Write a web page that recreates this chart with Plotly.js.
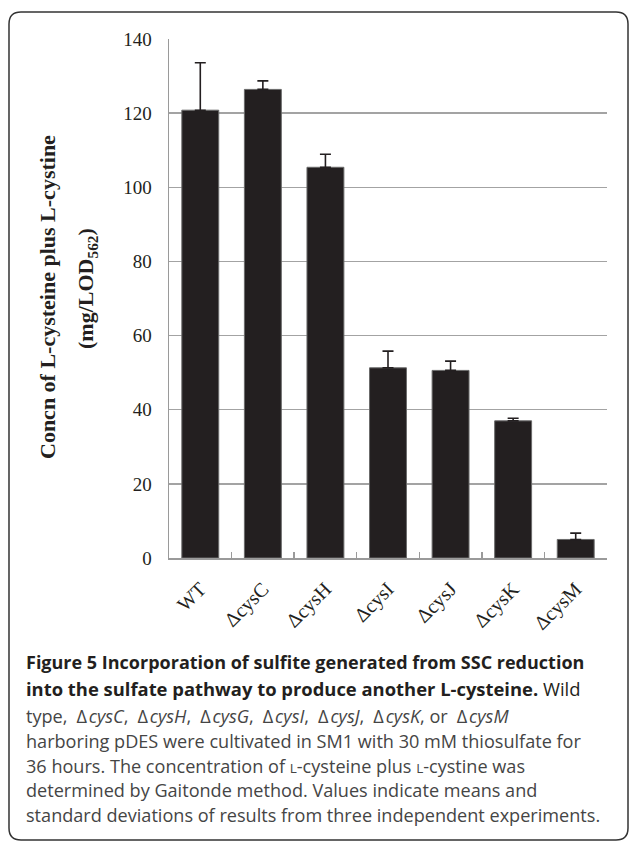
<!DOCTYPE html>
<html>
<head>
<meta charset="utf-8">
<script src="https://cdn.plot.ly/plotly-3.0.1.min.js"></script>
<style>
html,body{margin:0;padding:0;background:#fff;}
#chart{width:629px;height:842px;}
</style>
</head>
<body>
<div id="chart"></div>
<script>
// ---- data ----
var strains = ["WT", "\u0394cysC", "\u0394cysH", "\u0394cysI", "\u0394cysJ", "\u0394cysK", "\u0394cysM"];
var concn = [120.8, 126.4, 105.4, 51.3, 50.6, 37.0, 5.0];
var concnSD = [12.8, 2.3, 3.5, 4.5, 2.5, 0.7, 1.7];
var yTicks = [0, 20, 40, 60, 80, 100, 120, 140];

var yTitleLines = [
  "<b>Concn of L-cysteine plus L-cystine</b>",
  "<b>(mg/LOD<sub>562</sub>)</b>"
];

var captionLines = [
  "<b>Figure 5 Incorporation of sulfite generated from SSC reduction</b>",
  "<b>into the sulfate pathway to produce another L-cysteine.</b> Wild",
  "type,\u2002\u0394\u200a<i>cysC</i>,\u2002\u0394\u200a<i>cysH</i>,\u2002\u0394\u200a<i>cysG</i>,\u2002\u0394\u200a<i>cysI</i>,\u2002\u0394\u200a<i>cysJ</i>,\u2002\u0394\u200a<i>cysK</i>, or\u2002\u0394\u200a<i>cysM</i>",
  "harboring pDES were cultivated in SM1 with 30 mM thiosulfate for",
  "36 hours. The concentration of <span style='font-size:13.5px'>L</span>-cysteine plus <span style='font-size:13.5px'>L</span>-cystine was",
  "determined by Gaitonde method. Values indicate means and",
  "standard deviations of results from three independent experiments."
];
var captionSize = [18, 18.4, 18.1, 18.1, 18.1, 18.1, 18.1];

// ---- geometry (pixels) ----
var W = 629, H = 842;
var mL = 169, mR = 22, mT = 39, mB = 284;
var pw = W - mL - mR, ph = H - mT - mB;
function px(x){ return (x - mL) / pw; }
function py(y){ return (H - mB - y) / ph; }

var captionY = [662, 688, 716, 740.75, 765.5, 790.25, 815];
var annotations = captionLines.map(function(t, i){
  return {
    text: t, xref: 'paper', yref: 'paper',
    x: px(24), y: py(captionY[i]), xanchor: 'left', yanchor: 'middle',
    showarrow: false, align: 'left',
    font: {family: 'Open Sans', size: captionSize[i], color: i < 2 ? '#231f20' : '#454545'}
  };
});

var yTitleX = [47, 87];
var yTitleY = [297, 289];
yTitleLines.forEach(function(t, i){
  annotations.push({
    text: t, xref: 'paper', yref: 'paper', textangle: -90,
    x: px(yTitleX[i]), y: py(yTitleY[i]), xanchor: 'center', yanchor: 'middle',
    showarrow: false,
    font: {family: 'Liberation Serif', size: 22, color: '#231f20'}
  });
});

// rounded border
var bl = 9, bt = 12, br = 628, bb = 840, r = 12;
function P(x, y){ return px(x).toFixed(5) + ',' + py(y).toFixed(5); }
var borderPath = 'M' + P(bl, bb - r) + ' L' + P(bl, bt + r) + ' Q' + P(bl, bt) + ' ' + P(bl + r, bt) +
  ' L' + P(br - r, bt) + ' Q' + P(br, bt) + ' ' + P(br, bt + r) +
  ' L' + P(br, bb - r) + ' Q' + P(br, bb) + ' ' + P(br - r, bb) +
  ' L' + P(bl + r, bb) + ' Q' + P(bl, bb) + ' ' + P(bl, bb - r) + ' Z';

var trace = {
  type: 'bar', x: strains, y: concn,
  marker: {color: '#231f20', line: {color: '#6a6a6a', width: 1}},
  error_y: {type: 'data', array: concnSD, arrayminus: concnSD.map(function(){return 0;}),
            symmetric: false, visible: true, color: '#231f20', thickness: 1.6, width: 5.5},
  hoverinfo: 'none'
};

var layout = {
  width: W, height: H,
  margin: {l: mL, r: mR, t: mT, b: mB, pad: 0},
  paper_bgcolor: '#ffffff', plot_bgcolor: '#ffffff',
  showlegend: false,
  bargap: 0.41,
  font: {family: 'Liberation Serif', color: '#231f20'},
  xaxis: {
    type: 'category', tickangle: -45, tickson: 'boundaries',
    ticks: 'inside', ticklen: 6, tickcolor: '#9a9a9a', tickwidth: 1.3,
    showline: true, linecolor: '#9a9a9a', linewidth: 1.5,
    showgrid: false, zeroline: false,
    tickfont: {family: 'Liberation Serif', size: 20, color: '#231f20'},
    ticklabelstandoff: 10,
    automargin: false
  },
  yaxis: {
    range: [0, 140], tickvals: yTicks, ticktext: yTicks.map(String),
    showgrid: true, gridcolor: '#a3a3a3', gridwidth: 1.5,
    showline: true, linecolor: '#9a9a9a', linewidth: 1.5,
    zeroline: false, ticks: '',
    tickfont: {family: 'Liberation Serif', size: 19, color: '#231f20'},
    ticklabelstandoff: 12,
    automargin: false
  },
  annotations: annotations,
  shapes: [{type: 'path', xref: 'paper', yref: 'paper', path: borderPath,
            line: {color: '#333333', width: 1.5}, fillcolor: 'rgba(0,0,0,0)', layer: 'above'}]
};

Plotly.newPlot('chart', [trace], layout, {displayModeBar: false, staticPlot: true});
</script>
</body>
</html>
